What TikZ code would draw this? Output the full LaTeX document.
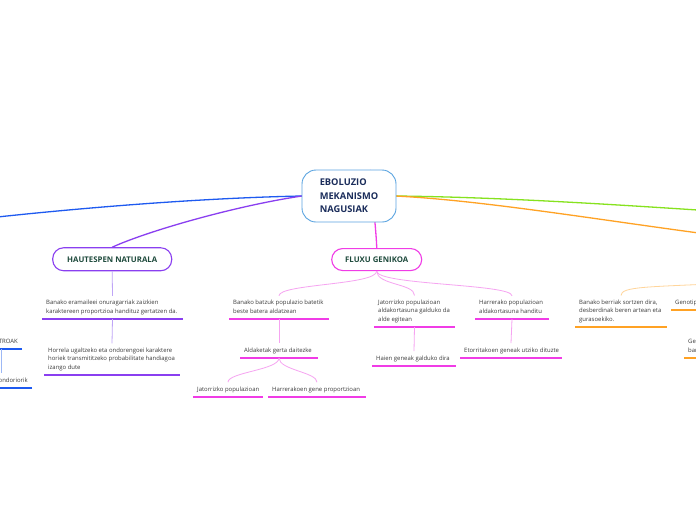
\documentclass[tikz,border=0pt]{standalone}
\usepackage{fontspec}
\setmainfont{Open Sans}
\definecolor{cblue}{HTML}{5BA4E0}
\definecolor{navy}{HTML}{1B2D5B}
\definecolor{tealtx}{HTML}{1E4A3C}
\definecolor{txtgray}{HTML}{3A3A3A}
\definecolor{bline}{HTML}{1E5AF0}
\definecolor{purp}{HTML}{8A3FF0}
\definecolor{mag}{HTML}{F03CE6}
\definecolor{grn}{HTML}{86E21E}
\definecolor{orng}{HTML}{FFA224}
\definecolor{lpurp}{HTML}{BFA5F7}
\definecolor{lmag}{HTML}{F6A4F1}
\definecolor{lorng}{HTML}{FFD59A}
\definecolor{lblue}{HTML}{9DB8F5}
\newcommand\leafnode[6]{%
  \draw[uline, color=#5] (#2,#3) coordinate (#1-a) -- ++(#4,0) coordinate (#1-e);
  \node[leaf] (#1) at (#1-a) {\strut #6\strut};
  \coordinate (#1-t) at ([xshift=#4*0.5pt]#1.north west);
  \coordinate (#1-b) at ([xshift=#4*0.5pt]#1.south west);
}
\begin{document}
\begin{tikzpicture}[x=1pt,y=-1pt,
  leaf/.style={font=\fontsize{5.95}{8.4}\selectfont, text=txtgray, align=left,
    inner xsep=4pt, inner ysep=3pt, anchor=south west},
  uline/.style={line width=2pt},
  central/.style={draw=cblue, line width=0.9pt, rounded corners=14pt, fill=white,
    minimum width=94pt, minimum height=52pt, align=left, text=navy,
    font=\bfseries\fontsize{9.3}{13.5}\selectfont},
  topic/.style={line width=1.1pt, rounded corners=11pt, fill=white, text=tealtx,
    font=\bfseries\fontsize{7.8}{9}\selectfont},
  branch/.style={line width=1.3pt},
  conn/.style={line width=0.8pt}]
\useasboundingbox (0,0) rectangle (696,520);
\clip (0,0) rectangle (696,520);
\fill[white] (0,0) rectangle (696,520);
% off-canvas parents
\coordinate (bpar) at (-10,217.8);
\coordinate (gpar) at (710,210.8);
\coordinate (opar) at (710,234.5);
\coordinate (o1par) at (720,283.5);
\coordinate (lx) at (1.7,0);
\coordinate (cc) at (349,196);
% main branches (drawn first, boxes on top)
\draw[branch, color=bline] ([xshift=-47pt]cc) .. controls (200,198) and (80,208) .. (bpar);
\draw[branch, color=purp] ([xshift=-47pt]cc) .. controls (240,205) and (150,230) .. (112.2,247.2) coordinate (hntop);
\draw[branch, color=grn] ([xshift=46pt]cc) .. controls (500,197) and (620,205) .. (gpar);
\draw[branch, color=orng] ([xshift=46pt]cc) .. controls (480,200) and (600,220) .. (opar);
\draw[branch, color=mag] ([xshift=21pt,yshift=26pt]cc) .. controls +(1,12) and +(0,-12) .. (376.7,248) coordinate (fgtop);
\node[central] (c) at (cc) {EBOLUZIO\\MEKANISMO\\NAGUSIAK};
\node[topic, draw=purp, minimum width=119pt, minimum height=23pt, anchor=north] (hn) at (hntop) {HAUTESPEN NATURALA};
\node[topic, draw=mag, minimum width=90pt, minimum height=22pt, anchor=north] (fg) at (fgtop) {FLUXU GENIKOA};
% HAUTESPEN NATURALA leaves
\leafnode{hn1}{42}{319}{141}{purp}{Banako eramaileei onuragarriak zaizkien\\karaktereen proportzioa handituz gertatzen da.}
\leafnode{hn2}{44}{375}{136}{purp}{Horrela ugaltzeko eta ondorengoei karaktere\\horiek transmititzeko probabilitate handiagoa\\izango dute}
% FLUXU GENIKOA leaves
\leafnode{f1}{229}{319}{100}{mag}{Banako batzuk populazio batetik\\beste batera aldatzean}
\leafnode{f2}{374}{327}{81}{mag}{Jatorrizko populazioan\\aldakortasuna galduko da\\alde egitean}
\leafnode{f3}{475}{319}{74}{mag}{Harrerako populazioan\\aldakortasuna handitu}
\leafnode{f11}{240}{358}{78}{mag}{Aldaketak gerta daitezke}
\leafnode{f111}{193}{397}{70}{mag}{Jatorrizko populazioan}
\leafnode{f112}{268}{397}{98}{mag}{Harrerakoen gene proportzioan}
\leafnode{f21}{372}{366}{84}{mag}{Haien geneak galduko dira}
\leafnode{f31}{460}{358}{102}{mag}{Etorritakoen geneak utziko dituzte}
% orange leaves
\leafnode{o1}{575}{327}{92}{orng}{Banako berriak sortzen dira,\\desberdinak beren artean eta\\gurasoekiko.}
\leafnode{o2}{671}{310}{70}{orng}{Genotipo berriak}
\leafnode{o3}{684}{358}{60}{orng}{Geneen\\banaketa}
% left blue leaves
\draw[uline, color=bline] (22,349) coordinate (b1-a) -- ++(-40,0);
\node[leaf, anchor=south east] (b1) at (b1-a) {\strut TROAK\strut};
\draw[uline, color=bline] (32,388) coordinate (b2-a) -- ++(-50,0);
\node[leaf, anchor=south east] (b2) at (b2-a) {\strut ondoriorik\strut};
% connectors
\draw[conn, color=lpurp] (hn.south) -- (hn1-t);
\draw[conn, color=lpurp] (hn1-b) -- (hn2-t);
\draw[conn, color=lmag] (fg.south) .. controls +(0,14) and +(0,-12) .. (f1-t);
\draw[conn, color=lmag] (fg.south) .. controls +(0,14) and +(0,-12) .. (f2-t);
\draw[conn, color=lmag] (fg.south) .. controls +(0,14) and +(0,-12) .. (f3-t);
\draw[conn, color=lmag] (f1-b) -- (f11-t);
\draw[conn, color=lmag] (f11-b) .. controls +(0,12) and +(0,-10) .. (f111-t);
\draw[conn, color=lmag] (f11-b) .. controls +(0,12) and +(0,-10) .. (f112-t);
\draw[conn, color=lmag] (f2-b) -- (f21-t);
\draw[conn, color=lmag] (f3-b) -- (f31-t);
\draw[conn, color=lorng] (o1-t) .. controls +(0,-9) and (650,287) .. (o1par);
\draw[conn, color=lblue] (b1.south east -| lx) -- (b2.north east -| lx);
\end{tikzpicture}
\end{document}
